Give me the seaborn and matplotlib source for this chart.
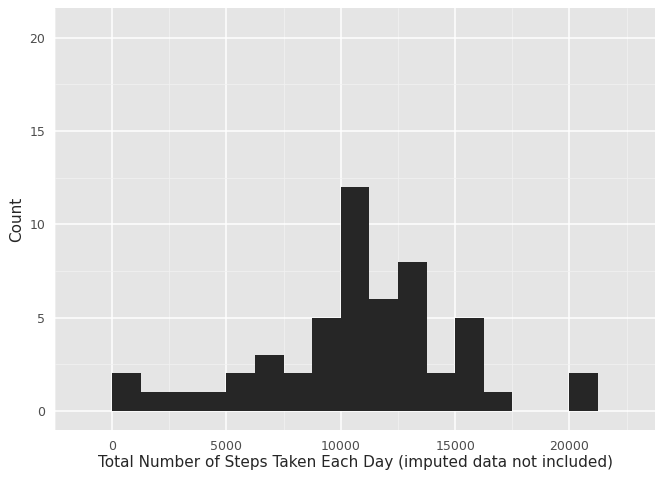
import numpy as np
import matplotlib
matplotlib.use('Agg')
import matplotlib.pyplot as plt
import seaborn as sns

# Histogram bins (width 1250) and counts
bin_starts = [0, 1250, 2500, 3750, 5000, 6250, 7500, 8750, 10000, 11250,
              12500, 13750, 15000, 16250, 17500, 18750, 20000]
counts = [2, 1, 1, 1, 2, 3, 2, 5, 12, 6, 8, 2, 5, 1, 0, 0, 2]
bin_width = 1250
x_ticks = [0, 5000, 10000, 15000, 20000]
y_ticks = [0, 5, 10, 15, 20]

sns.set_style('darkgrid', {'axes.facecolor': '#E5E5E5', 'grid.color': 'white'})

fig = plt.figure(figsize=(6.72, 4.8), dpi=100)
ax = fig.add_axes([55 / 672, 1 - 430 / 480, 600 / 672, 422 / 480])

edges = bin_starts + [bin_starts[-1] + bin_width]
centers = [b + bin_width / 2 for b in bin_starts]
sns.histplot(x=centers, weights=counts, bins=edges, color='#262626',
             edgecolor='none', alpha=1, ax=ax)

ax.set_xlim(-2350, 23740)
ax.set_ylim(-1.03, 21.6)
ax.set_xticks(x_ticks)
ax.set_yticks(y_ticks)
ax.set_xticks([-2500, 2500, 7500, 12500, 17500, 22500], minor=True)
ax.set_yticks([2.5, 7.5, 12.5, 17.5], minor=True)
ax.grid(which='major', color='white', linewidth=1.1)
ax.grid(which='minor', color='#F2F2F2', linewidth=0.5)
ax.set_axisbelow(True)
for s in ax.spines.values():
    s.set_visible(False)
ax.tick_params(which='both', length=0, labelsize=9, labelcolor='#4D4D4D', pad=4)
ax.tick_params(which='major', length=3, color='#4D4D4D')
ax.set_xlabel('Total Number of Steps Taken Each Day (imputed data not included)',
              fontsize=11, labelpad=2)
ax.set_ylabel('Count', fontsize=11)

fig.savefig('out.png', dpi=100)
